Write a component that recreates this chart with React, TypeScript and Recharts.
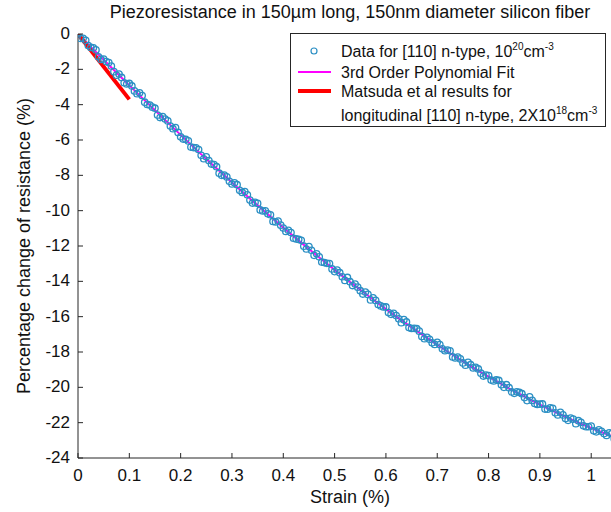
import { ComposedChart, Line, Scatter, XAxis, YAxis } from "recharts";

// measured data (strain %, change of resistance %), first sweep of readings
const dataStrain = [
  0, 0.01, 0.02, 0.03, 0.04, 0.05, 0.06, 0.07, 0.08, 0.09,
  0.1, 0.11, 0.12, 0.13, 0.14, 0.15, 0.16, 0.17, 0.18, 0.19,
  0.2, 0.21, 0.22, 0.23, 0.24, 0.25, 0.26, 0.27, 0.28, 0.29,
  0.3, 0.31, 0.32, 0.33, 0.34, 0.35, 0.36, 0.37, 0.38, 0.39,
  0.4, 0.41, 0.42, 0.43, 0.44, 0.45, 0.46, 0.47, 0.48, 0.49,
  0.5, 0.51, 0.52, 0.53, 0.54, 0.55, 0.56, 0.57, 0.58, 0.59,
  0.6, 0.61, 0.62, 0.63, 0.64, 0.65, 0.66, 0.67, 0.68, 0.69,
  0.7, 0.71, 0.72, 0.73, 0.74, 0.75, 0.76, 0.77, 0.78, 0.79,
  0.8, 0.81, 0.82, 0.83, 0.84, 0.85, 0.86, 0.87, 0.88, 0.89,
  0.9, 0.91, 0.92, 0.93, 0.94, 0.95, 0.96, 0.97, 0.98, 0.99,
  1.0, 1.01, 1.02, 1.03, 1.04, 1.05, 1.06
];
const dataResistance = [
  0, -0.24, -0.65, -0.78, -1.29, -1.42, -1.62, -2.13, -2.27, -2.76,
  -2.8, -3.22, -3.33, -3.86, -4.02, -4.2, -4.73, -4.81, -5.21, -5.3,
  -5.82, -5.96, -6.4, -6.44, -6.87, -6.95, -7.36, -7.51, -8.0, -8.09,
  -8.49, -8.53, -8.97, -9.1, -9.57, -9.59, -10.02, -10.18, -10.61, -10.59,
  -10.98, -11.11, -11.56, -11.63, -12.01, -12.03, -12.53, -12.61, -12.94, -12.99,
  -13.45, -13.51, -13.95, -14.02, -14.15, -14.53, -14.61, -15.05, -15.08, -15.39,
  -15.45, -15.87, -15.94, -16.34, -16.3, -16.67, -16.68, -17.12, -17.17, -17.48,
  -17.45, -17.82, -17.89, -18.28, -18.29, -18.62, -18.58, -18.9, -18.96, -19.36,
  -19.34, -19.64, -19.61, -20.0, -20.02, -20.34, -20.29, -20.58, -20.54, -20.91,
  -20.95, -21.23, -21.16, -21.44, -21.42, -21.76, -21.74, -22.06, -21.98, -22.23,
  -22.19, -22.52, -22.49, -22.72, -22.63, -22.89, -22.9
];

// readings taken in between
const dataStrainMid = [
  0.005, 0.015, 0.025, 0.035, 0.045, 0.055, 0.065, 0.075, 0.085, 0.095,
  0.105, 0.115, 0.125, 0.135, 0.145, 0.155, 0.165, 0.175, 0.185, 0.195,
  0.205, 0.215, 0.225, 0.235, 0.245, 0.255, 0.265, 0.275, 0.285, 0.295,
  0.305, 0.315, 0.325, 0.335, 0.345, 0.355, 0.365, 0.375, 0.385, 0.395,
  0.405, 0.415, 0.425, 0.435, 0.445, 0.455, 0.465, 0.475, 0.485, 0.495,
  0.505, 0.515, 0.525, 0.535, 0.545, 0.555, 0.565, 0.575, 0.585, 0.595,
  0.605, 0.615, 0.625, 0.635, 0.645, 0.655, 0.665, 0.675, 0.685, 0.695,
  0.705, 0.715, 0.725, 0.735, 0.745, 0.755, 0.765, 0.775, 0.785, 0.795,
  0.805, 0.815, 0.825, 0.835, 0.845, 0.855, 0.865, 0.875, 0.885, 0.895,
  0.905, 0.915, 0.925, 0.935, 0.945, 0.955, 0.965, 0.975, 0.985, 0.995,
  1.005, 1.015, 1.025, 1.035, 1.045, 1.055
];
const dataResistanceMid = [
  -0.25, -0.36, -0.76, -0.9, -1.44, -1.56, -1.81, -2.33, -2.46, -2.83,
  -2.94, -3.38, -3.48, -3.99, -4.14, -4.59, -4.67, -4.92, -5.36, -5.57,
  -5.95, -6.05, -6.43, -6.54, -7.06, -7.16, -7.39, -7.88, -7.99, -8.34,
  -8.42, -8.85, -8.92, -9.4, -9.53, -9.96, -10.01, -10.23, -10.64, -10.82,
  -11.18, -11.24, -11.6, -11.68, -12.17, -12.24, -12.44, -12.91, -12.98, -13.3,
  -13.36, -13.74, -13.78, -14.24, -14.33, -14.72, -14.74, -14.93, -15.31, -15.45,
  -15.77, -15.81, -16.12, -16.17, -16.62, -16.66, -16.82, -17.25, -17.28, -17.57,
  -17.58, -17.93, -17.93, -18.34, -18.39, -18.75, -18.72, -18.87, -19.2, -19.31,
  -19.59, -19.57, -19.85, -19.85, -20.26, -20.25, -20.36, -20.75, -20.74, -20.97,
  -20.94, -21.24, -21.19, -21.56, -21.56, -21.87, -21.8, -21.89, -22.18, -22.23,
  -22.46, -22.4, -22.62, -22.57, -22.93, -22.86
];

// 3rd order polynomial fit
const fitStrain = [
  0, 0.05, 0.1, 0.15, 0.2, 0.25, 0.3, 0.35, 0.4, 0.45, 0.5,
  0.55, 0.6, 0.65, 0.7, 0.75, 0.8, 0.85, 0.9, 0.95, 1.0, 1.05, 1.06
];
const fitResistance = [
  0, -1.46, -2.91, -4.32, -5.71, -7.08, -8.4, -9.7, -10.96, -12.17, -13.35,
  -14.48, -15.57, -16.61, -17.59, -18.53, -19.4, -20.22, -20.98, -21.67, -22.3, -22.86, -22.96
];

// Matsuda et al
const matsudaStrain = [0, 0.1];
const matsudaResistance = [0, -3.7];

const xTicks = [0, 0.1, 0.2, 0.3, 0.4, 0.5, 0.6, 0.7, 0.8, 0.9, 1.0];
const yTicks = [-24, -22, -20, -18, -16, -14, -12, -10, -8, -6, -4, -2, 0];

const dataPoints = [
  ...dataStrain.map((x, i) => ({ x, y: dataResistance[i] })),
  ...dataStrainMid.map((x, i) => ({ x, y: dataResistanceMid[i] }))
];
const fitPoints = fitStrain.map((x, i) => ({ x, y: fitResistance[i] }));
const matsudaPoints = matsudaStrain.map((x, i) => ({ x, y: matsudaResistance[i] }));

const FONT = '"Liberation Sans", Arial, Helvetica, sans-serif';
const AXIS = "#262626";
const DATA_BLUE = "#2b8fc4";
const W = 640;
const H = 512;
const TOP = 34;
const LEFT = 78;
const RIGHT_M = 18;
const X_AXIS_H = 54;
const BOTTOM = H - X_AXIS_H;
const RIGHT = W - RIGHT_M;
const TICK = 5;

const fmt = (v: number) => String(Math.round(v * 10) / 10);

const BottomTick = ({ x, payload }: any) => (
  <g>
    <line x1={x} y1={BOTTOM} x2={x} y2={BOTTOM - TICK} stroke={AXIS} />
    <text x={x} y={BOTTOM + 23} textAnchor="middle" fontSize={17} fontFamily={FONT} fill="#111">
      {fmt(payload.value)}
    </text>
  </g>
);

const TopTick = ({ x }: any) => (
  <line x1={x} y1={TOP} x2={x} y2={TOP + TICK} stroke={AXIS} />
);

const LeftTick = ({ y, payload }: any) => (
  <g>
    <line x1={LEFT} y1={y} x2={LEFT + TICK} y2={y} stroke={AXIS} />
    <text x={LEFT - 8} y={y + 5} textAnchor="end" fontSize={17} fontFamily={FONT} fill="#111">
      {payload.value}
    </text>
  </g>
);

const RightTick = ({ y }: any) => (
  <line x1={RIGHT} y1={y} x2={RIGHT - TICK} y2={y} stroke={AXIS} />
);

const Ring = ({ cx, cy }: any) => (
  <circle cx={cx} cy={cy} r={3.2} fill="none" stroke={DATA_BLUE} strokeWidth={1.3} />
);

const sup = { fontSize: 10, position: "relative" as const, top: -7 };
const row = { position: "absolute" as const, left: 50, whiteSpace: "nowrap" as const, lineHeight: "19px" };

const ChartLegend = () => (
  <div
    style={{
      position: "absolute",
      left: 290,
      top: 33,
      width: 316,
      height: 94,
      border: `1px solid ${AXIS}`,
      background: "#fff",
      fontFamily: FONT,
      fontSize: 16,
      color: "#111",
      boxSizing: "border-box"
    }}
  >
    <svg width={45} height={94} style={{ position: "absolute", left: 0, top: 0 }}>
      <circle cx={23} cy={17} r={3} fill="none" stroke={DATA_BLUE} strokeWidth={1.2} />
      <line x1={7} y1={38} x2={40} y2={38} stroke="#ff00ff" strokeWidth={2} />
      <line x1={7} y1={57} x2={40} y2={57} stroke="#ff0000" strokeWidth={4} />
    </svg>
    <div style={{ ...row, top: 8 }}>
      Data for [110] n-type, 10<span style={sup}>20</span>cm<span style={sup}>-3</span>
    </div>
    <div style={{ ...row, top: 29 }}>3rd Order Polynomial Fit</div>
    <div style={{ ...row, top: 48 }}>Matsuda et al results for</div>
    <div style={{ ...row, top: 72 }}>
      longitudinal [110] n-type, 2X10<span style={sup}>18</span>cm<span style={sup}>-3</span>
    </div>
  </div>
);

export default function App() {
  return (
    <div
      style={{
        position: "absolute",
        left: 0,
        top: 0,
        width: 611,
        height: 512,
        overflow: "hidden",
        background: "#fff"
      }}
    >
      <ComposedChart
        width={W}
        height={H}
        margin={{ top: TOP, right: RIGHT_M, bottom: 0, left: 0 }}
      >
        <XAxis
          xAxisId="b"
          type="number"
          dataKey="x"
          domain={[0, 1.06]}
          ticks={xTicks}
          allowDataOverflow
          height={X_AXIS_H}
          stroke={AXIS}
          tickLine={false}
          tickSize={0}
          tickMargin={0}
          tick={<BottomTick />}
          interval={0}
          label={() => (
            <text x={(LEFT + RIGHT) / 2} y={503} textAnchor="middle" fontSize={18} fontFamily={FONT} fill="#111">
              Strain (%)
            </text>
          )}
        />
        <XAxis
          xAxisId="t"
          orientation="top"
          type="number"
          dataKey="x"
          domain={[0, 1.06]}
          ticks={xTicks}
          allowDataOverflow
          height={0}
          stroke={AXIS}
          tickLine={false}
          tickSize={0}
          tickMargin={0}
          tick={<TopTick />}
          interval={0}
        />
        <YAxis
          yAxisId="l"
          type="number"
          dataKey="y"
          domain={[-24, 0]}
          ticks={yTicks}
          allowDataOverflow
          width={LEFT}
          stroke={AXIS}
          tickLine={false}
          tickSize={0}
          tickMargin={0}
          tick={<LeftTick />}
          interval={0}
          label={() => (
            <text
              x={24}
              y={246}
              transform="rotate(-90, 24, 246)"
              textAnchor="middle"
              dominantBaseline="central"
              fontSize={18}
              fontFamily={FONT}
              fill="#111"
            >
              Percentage change of resistance (%)
            </text>
          )}
        />
        <YAxis
          yAxisId="r"
          orientation="right"
          type="number"
          dataKey="y"
          domain={[-24, 0]}
          ticks={yTicks}
          allowDataOverflow
          width={0}
          stroke={AXIS}
          tickLine={false}
          tickSize={0}
          tickMargin={0}
          tick={<RightTick />}
          interval={0}
        />
        <Scatter
          data={dataPoints}
          xAxisId="b"
          yAxisId="l"
          dataKey="y"
          shape={<Ring />}
          isAnimationActive={false}
        />
        <Line
          data={fitPoints}
          xAxisId="b"
          yAxisId="l"
          dataKey="y"
          type="monotone"
          stroke="#ff00ff"
          strokeWidth={2}
          dot={false}
          isAnimationActive={false}
        />
        <Line
          data={matsudaPoints}
          xAxisId="b"
          yAxisId="l"
          dataKey="y"
          type="linear"
          stroke="#ff0000"
          strokeWidth={4}
          dot={false}
          isAnimationActive={false}
        />
      </ComposedChart>
      <div
        style={{
          position: "absolute",
          left: 0,
          top: 2,
          width: LEFT + RIGHT,
          textAlign: "center",
          fontFamily: FONT,
          fontSize: 18,
          lineHeight: "20px",
          color: "#111",
          whiteSpace: "nowrap"
        }}
      >
        Piezoresistance in 150µm long, 150nm diameter silicon fiber
      </div>
      <ChartLegend />
    </div>
  );
}
